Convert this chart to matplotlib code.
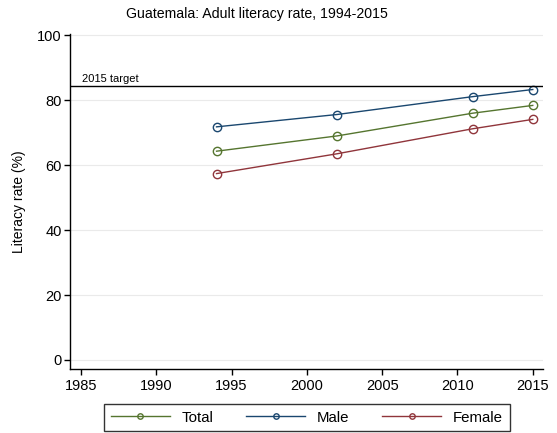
import matplotlib
matplotlib.use('Agg')
import matplotlib.pyplot as plt

plt.rcParams['font.family'] = ['Liberation Sans', 'DejaVu Sans']

years = [1994, 2002, 2011, 2015]
total = [64.3, 69.0, 76.0, 78.4]
male = [71.8, 75.6, 81.1, 83.3]
female = [57.4, 63.5, 71.2, 74.1]
target = 84.5
series_names = ["Total", "Male", "Female"]
colors = ["#55752f", "#1a476f", "#90353b"]
xticks = [1985, 1990, 1995, 2000, 2005, 2010, 2015]
yticks = [0, 20, 40, 60, 80, 100]

fig = plt.figure(figsize=(5.57, 4.33), dpi=100)
ax = fig.add_axes([70 / 557, 1 - 368.7 / 433, 473 / 557, 334.7 / 433])

for vals, name, c in zip([total, male, female], series_names, colors):
    ax.plot(years, vals, color=c, lw=1.0, marker='o', ms=6.0,
            mfc='none', mec=c, mew=1.0, label=name)

ax.axhline(target, color='black', lw=1.0)
ax.text(1985.1, target + 0.5, "2015 target", fontsize=8, va='bottom', ha='left')

ax.set_xlim(1984.27, 2015.68)
ax.set_ylim(-2.7, 100.4)
ax.set_xticks(xticks)
ax.set_yticks(yticks)
ax.grid(axis='y', color='#eaeaea', lw=0.8)
ax.set_axisbelow(True)
for s in ['top', 'right']:
    ax.spines[s].set_visible(False)
for s in ['left', 'bottom']:
    ax.spines[s].set_linewidth(1.0)
ax.tick_params(direction='out', length=4, width=1.0, labelsize=10.5, pad=2)
ax.tick_params(axis='x', pad=3.5)
ax.set_ylabel("Literacy rate (%)", fontsize=10, labelpad=8)

fig.text(257 / 557, 1 - 14 / 433, "Guatemala: Adult literacy rate, 1994-2015",
         ha='center', va='center', fontsize=10.2)

handles, labels = ax.get_legend_handles_labels()
leg = fig.legend(handles, labels, loc='center', ncol=3,
                 bbox_to_anchor=(307 / 557, 1 - 417.5 / 433),
                 fontsize=10.8, handlelength=3.9, markerscale=0.65,
                 frameon=True, fancybox=False, edgecolor='black',
                 borderpad=0.45, columnspacing=2.2, handletextpad=0.8)
leg.get_frame().set_linewidth(1.0)

fig.savefig("out.png", dpi=100)
plt.close()
